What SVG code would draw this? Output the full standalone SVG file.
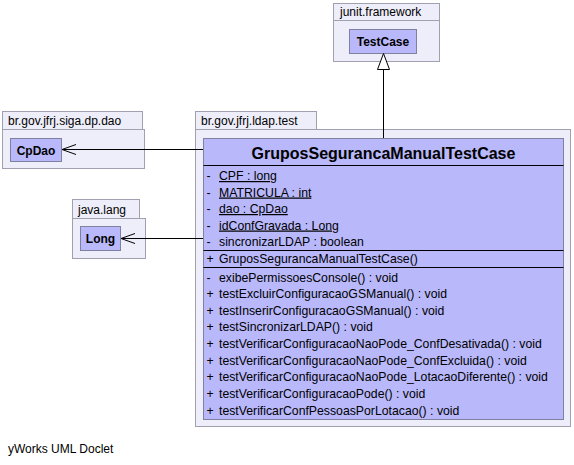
<svg xmlns="http://www.w3.org/2000/svg" width="574" height="465" viewBox="0 0 574 465">
<style>
.pkg{fill:#eeeefa;stroke:#a0a0b0;stroke-width:1}
.cls{fill:#b8b8fb;stroke:#8080a0;stroke-width:1}
.sep{stroke:#000;stroke-width:1}
.t{font-family:"Liberation Sans",Arial,sans-serif;font-size:12px;fill:#000}
.m{font-family:"Liberation Sans",Arial,sans-serif;font-size:12.25px;fill:#000}
.b{font-family:"Liberation Sans",Arial,sans-serif;font-size:12px;font-weight:bold;fill:#000}
.title{font-family:"Liberation Sans",Arial,sans-serif;font-size:16px;font-weight:bold;fill:#000}
.u{text-decoration:underline}
.edge{stroke:#000;stroke-width:1;fill:none}
</style>
<rect width="574" height="465" fill="#fff"/>

<g id="pkg-junit">
<rect class="pkg" x="333.5" y="3.5" width="106" height="17"/>
<rect class="pkg" x="333.5" y="20.5" width="106" height="41"/>
<text class="t" x="340" y="16">junit.framework</text>
</g>
<g id="TestCase">
<rect class="cls" x="349.5" y="29.5" width="67" height="24"/>
<text class="b" x="383" y="46" text-anchor="middle">TestCase</text>
</g>

<g id="pkg-dao">
<rect class="pkg" x="2.5" y="111.5" width="140" height="18"/>
<rect class="pkg" x="2.5" y="129.5" width="142" height="39"/>
<text class="t" x="8" y="125">br.gov.jfrj.siga.dp.dao</text>
</g>
<g id="CpDao">
<rect class="cls" x="10.5" y="138.5" width="51" height="23"/>
<text class="b" x="36" y="154.5" text-anchor="middle">CpDao</text>
</g>

<g id="pkg-lang">
<rect class="pkg" x="72.5" y="199.5" width="67" height="19"/>
<rect class="pkg" x="72.5" y="218.5" width="73" height="40"/>
<text class="t" x="78" y="214">java.lang</text>
</g>
<g id="Long">
<rect class="cls" x="80.5" y="226.5" width="40" height="24"/>
<text class="b" x="100.5" y="243" text-anchor="middle">Long</text>
</g>

<g id="pkg-ldap">
<rect class="pkg" x="195.5" y="111.5" width="121" height="18"/>
<rect class="pkg" x="195.5" y="129.5" width="375" height="297"/>
<text class="t" x="201" y="125">br.gov.jfrj.ldap.test</text>
</g>
<g id="GruposSegurancaManualTestCase">
<rect class="cls" x="203.5" y="138.5" width="360" height="281"/>
<text class="title" x="383.5" y="158.5" text-anchor="middle">GruposSegurancaManualTestCase</text>
<line class="sep" x1="203.5" y1="165.5" x2="563.5" y2="165.5"/>
<text class="m" x="206.5" y="180">-</text><text class="m u" x="219" y="180">CPF : long</text>
<text class="m" x="206.5" y="196.5">-</text><text class="m u" x="219" y="196.5">MATRICULA : int</text>
<text class="m" x="206.5" y="213">-</text><text class="m u" x="219" y="213">dao : CpDao</text>
<text class="m" x="206.5" y="229.5">-</text><text class="m u" x="219" y="229.5">idConfGravada : Long</text>
<text class="m" x="206.5" y="246">-</text><text class="m" x="219" y="246">sincronizarLDAP : boolean</text>
<line class="sep" x1="203.5" y1="250.5" x2="563.5" y2="250.5"/>
<text class="m" x="206.5" y="263">+</text><text class="m" x="219" y="263">GruposSegurancaManualTestCase()</text>
<line class="sep" x1="203.5" y1="267.5" x2="563.5" y2="267.5"/>
<text class="m" x="206.5" y="281.5">-</text><text class="m" x="219" y="281.5">exibePermissoesConsole() : void</text>
<text class="m" x="206.5" y="298">+</text><text class="m" x="219" y="298">testExcluirConfiguracaoGSManual() : void</text>
<text class="m" x="206.5" y="314.7">+</text><text class="m" x="219" y="314.7">testInserirConfiguracaoGSManual() : void</text>
<text class="m" x="206.5" y="331.3">+</text><text class="m" x="219" y="331.3">testSincronizarLDAP() : void</text>
<text class="m" x="206.5" y="348">+</text><text class="m" x="219" y="348">testVerificarConfiguracaoNaoPode_ConfDesativada() : void</text>
<text class="m" x="206.5" y="364.7">+</text><text class="m" x="219" y="364.7">testVerificarConfiguracaoNaoPode_ConfExcluida() : void</text>
<text class="m" x="206.5" y="381.3">+</text><text class="m" x="219" y="381.3">testVerificarConfiguracaoNaoPode_LotacaoDiferente() : void</text>
<text class="m" x="206.5" y="398">+</text><text class="m" x="219" y="398">testVerificarConfiguracaoPode() : void</text>
<text class="m" x="206.5" y="414.7">+</text><text class="m" x="219" y="414.7">testVerificarConfPessoasPorLotacao() : void</text>
</g>

<g id="connectors">
<line class="edge" x1="383.5" y1="138" x2="383.5" y2="69.5"/>
<polygon points="383.5,53.5 377.5,69.5 389.5,69.5" fill="#fff" stroke="#000" stroke-width="1"/>
<line class="edge" x1="203" y1="149.5" x2="62" y2="149.5"/>
<polyline class="edge" points="76,144.5 62,149.5 76,154.5"/>
<line class="edge" x1="203" y1="238.5" x2="121" y2="238.5"/>
<polyline class="edge" points="135,233.5 121,238.5 135,243.5"/>
</g>

<text class="t" x="8" y="453">yWorks UML Doclet</text>
</svg>
